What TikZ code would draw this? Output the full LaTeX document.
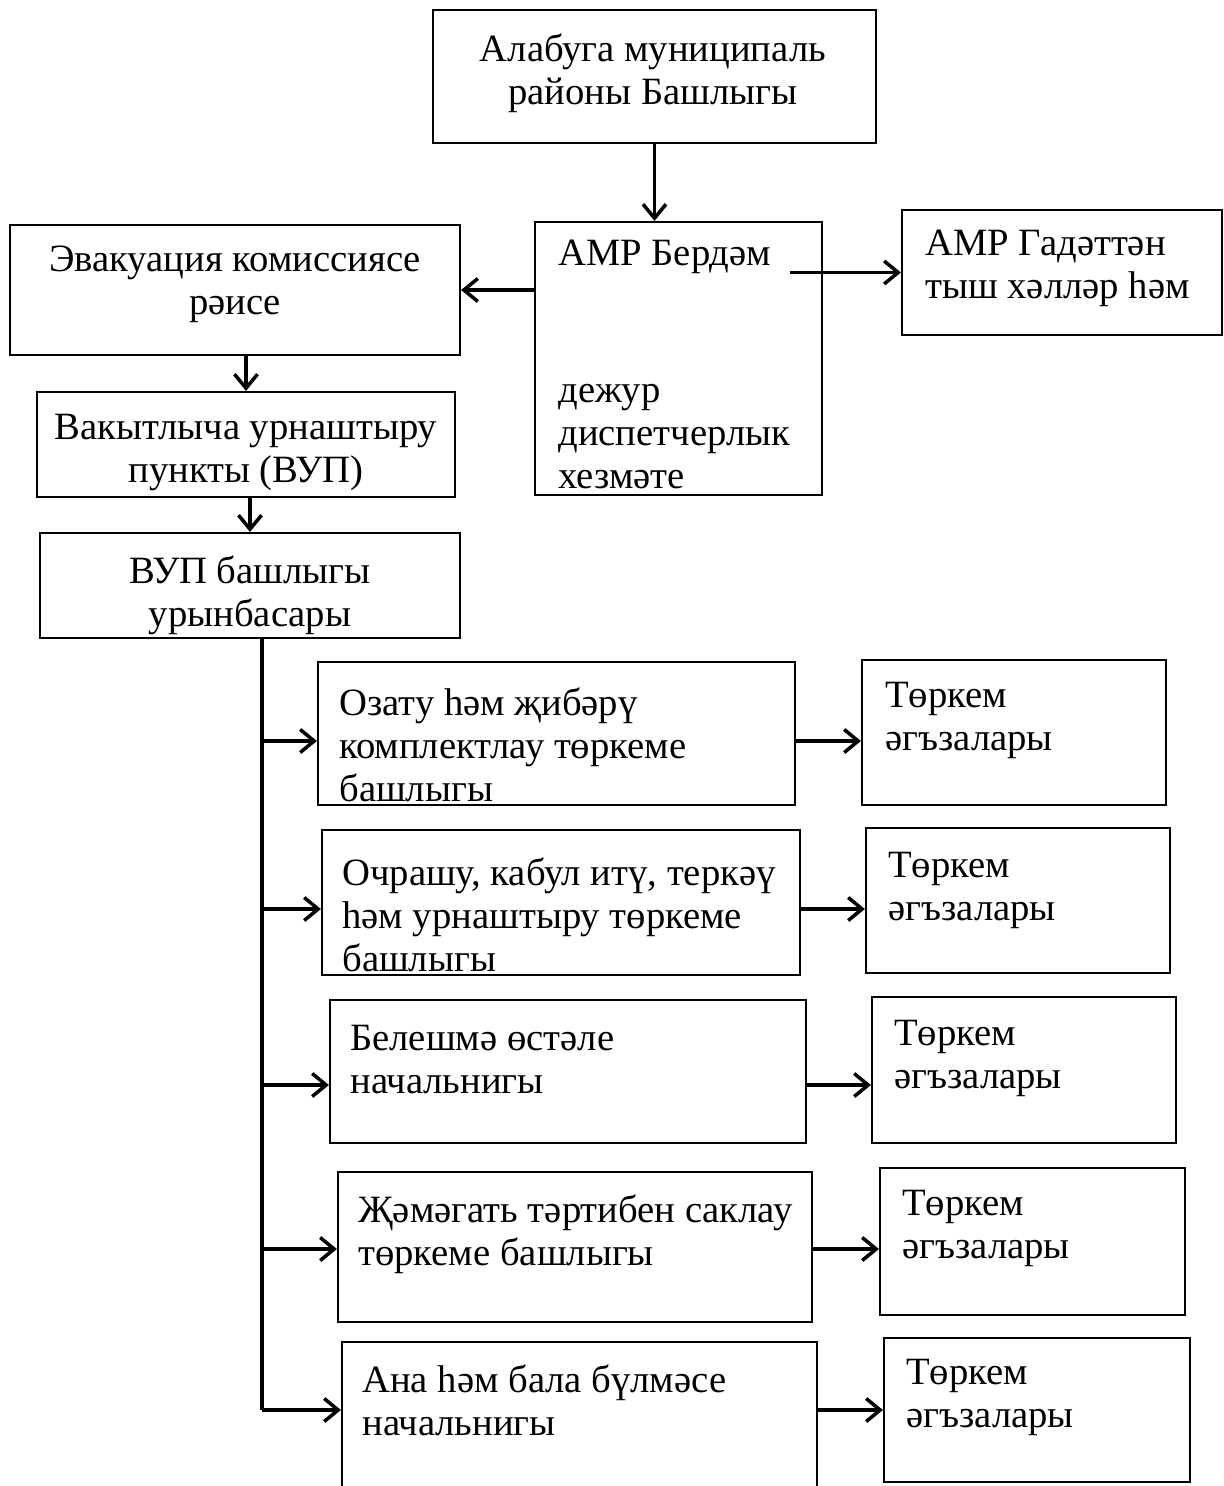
\documentclass[tikz,border=0pt]{standalone}
\usepackage{fontspec}
\setmainfont{Liberation Serif}
\usepackage{tikz}
\usetikzlibrary{arrows.meta, fit}

\begin{document}
\begin{tikzpicture}[x=0.02cm, y=-0.02cm,
  box/.style={draw, line width=1.2pt, inner sep=0pt},
  txt/.style={inner sep=0pt, font=\fontsize{22}{24.5}\selectfont, execute at begin node=\strut},
  lft/.style={txt, align=left, anchor=north west},
  mid/.style={txt, align=center, anchor=north},
  line/.style={line width=2pt},
  arr/.style={line, -{Straight Barb[length=2.8mm, width=4.6mm]}}
]
\useasboundingbox (0,0) rectangle (1223,1486);

% top of the scheme
\node[mid] (glava-t) at (653,33) {Алабуга муниципаль\\районы Башлыгы};
\node[box, fit={(433,10) (876,143)}] (glava) {};

\node[lft] (berdem-t) at (558,240) {АМР Бердәм\\[53pt]дежур\\диспетчерлык\\хезмәте};
\node[box, fit={(535,222) (822,495)}] (berdem) {};

\node[lft] (gadet-t) at (925,230) {АМР Гадәттән\\тыш хәлләр һәм};
\node[box, fit={(902,210) (1222,335)}] (gadet) {};

% left column
\node[mid] (evak-t) at (235,246) {Эвакуация комиссиясе\\рәисе};
\node[box, fit={(10,225) (460,355)}] (evak) {};

\node[mid] (vakyt-t) at (246,414) {Вакытлыча урнаштыру\\пункты (ВУП)};
\node[box, fit={(37,392) (455,497)}] (vakyt) {};

\node[mid] (vup-t) at (250,555) {ВУП башлыгы\\урынбасары};
\node[box, fit={(40,533) (460,638)}] (vup) {};

% groups of the VUP
\node[lft] (ozatu-t) at (339,687) {Озату һәм җибәрү\\комплектлау төркеме\\башлыгы};
\node[box, fit={(318,662) (795,805)}] (ozatu) {};
\node[lft] (ochrashu-t) at (342,857) {Очрашу, кабул итү, теркәү\\һәм урнаштыру төркеме\\башлыгы};
\node[box, fit={(322,830) (800,975)}] (ochrashu) {};
\node[lft] (beleshme-t) at (350,1025) {Белешмә өстәле\\начальнигы};
\node[box, fit={(330,1000) (806,1143)}] (beleshme) {};
\node[lft] (tartip-t) at (358,1194) {Җәмәгать тәртибен саклау\\төркеме башлыгы};
\node[box, fit={(338,1172) (812,1322)}] (tartip) {};
\node[lft] (ana-t) at (362,1364) {Ана һәм бала бүлмәсе\\начальнигы};
\node[box, fit={(342,1342) (817,1490)}] (ana) {};

\node[lft] (agza1-t) at (885,682) {Төркем\\әгъзалары};
\node[box, fit={(862,660) (1166,805)}] (agza1) {};
\node[lft] (agza2-t) at (888,852) {Төркем\\әгъзалары};
\node[box, fit={(866,828) (1170,973)}] (agza2) {};
\node[lft] (agza3-t) at (894,1020) {Төркем\\әгъзалары};
\node[box, fit={(872,997) (1176,1143)}] (agza3) {};
\node[lft] (agza4-t) at (902,1190) {Төркем\\әгъзалары};
\node[box, fit={(880,1168) (1185,1315)}] (agza4) {};
\node[lft] (agza5-t) at (906,1359) {Төркем\\әгъзалары};
\node[box, fit={(884,1338) (1190,1482)}] (agza5) {};

% connectors
\draw[arr] (glava) -- (glava |- berdem.north);
\draw[arr] (berdem.west |- evak) -- (evak.east);
\draw[arr] (berdem-t.east |- gadet) -- (gadet.west);
\draw[arr] (evak.south -| vakyt) -- (vakyt);
\draw[arr] (vakyt.south -| vup) -- (vup);

\coordinate (j1) at (262,741);
\coordinate (j2) at (262,909);
\coordinate (j3) at (262,1085);
\coordinate (j4) at (262,1249);
\coordinate (j5) at (262,1410);
\draw[line] (vup.south -| j1) -- (j5);

\draw[arr] (j1) -- (j1 -| ozatu.west);
\draw[arr] (j2) -- (j2 -| ochrashu.west);
\draw[arr] (j3) -- (j3 -| beleshme.west);
\draw[arr] (j4) -- (j4 -| tartip.west);
\draw[arr] (j5) -- (j5 -| ana.west);

\draw[arr] (ozatu.east |- j1) -- (j1 -| agza1.west);
\draw[arr] (ochrashu.east |- j2) -- (j2 -| agza2.west);
\draw[arr] (beleshme.east |- j3) -- (j3 -| agza3.west);
\draw[arr] (tartip.east |- j4) -- (j4 -| agza4.west);
\draw[arr] (ana.east |- j5) -- (j5 -| agza5.west);
\end{tikzpicture}
\end{document}
